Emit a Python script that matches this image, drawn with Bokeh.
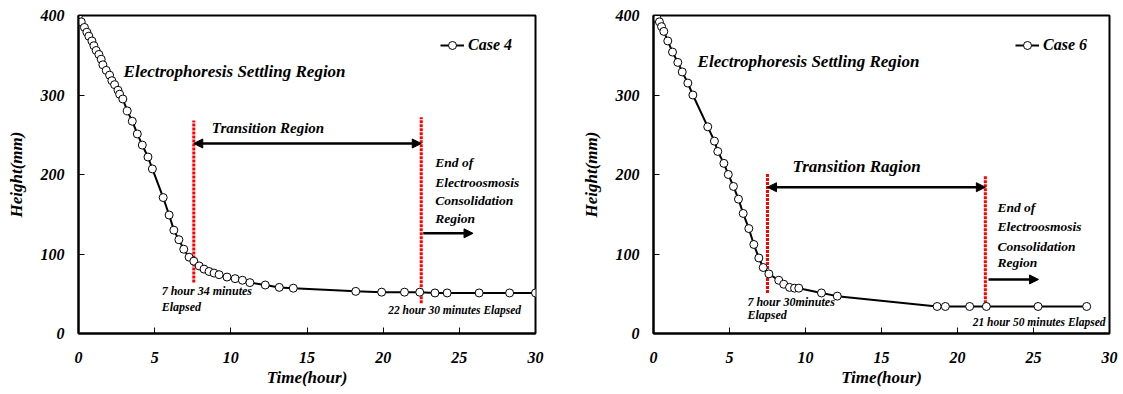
from bokeh.plotting import figure
from bokeh.layouts import row
from bokeh.models import (Label, Arrow, NormalHead, Legend, LegendItem,
                          FixedTicker, Range1d)
from bokeh.embed import file_html
from bokeh.resources import INLINE

# ---------------- data ----------------
case4_t = [0, 0.18, 0.39, 0.55, 0.68, 0.88, 1.01, 1.16, 1.34, 1.49, 1.6, 1.82,
           2.04, 2.19, 2.37, 2.59, 2.7, 2.91, 3.2, 3.53, 3.86, 4.19, 4.56, 4.85,
           5.56, 5.95, 6.26, 6.59, 6.91, 7.26, 7.57, 7.92, 8.24, 8.57, 8.9, 9.23,
           9.75, 10.28, 10.76, 11.25, 12.26, 13.18, 14.1, 18.2, 19.9, 21.4, 22.4,
           23.4, 24.2, 26.3, 28.3, 30.0]
case4_h = [400, 392, 385, 379, 374, 368, 362, 356, 351, 345, 338, 331,
           325, 318, 313, 306, 301, 295, 280, 267, 251, 237, 222, 207,
           171, 149, 130, 118, 106, 96, 91, 85, 81, 78, 76, 74,
           71, 69, 67, 64, 61, 58, 57, 53, 52, 52, 52,
           51, 51, 51, 51, 51]

case6_t = [0, 0.24, 0.39, 0.53, 0.68, 0.94, 1.25, 1.6, 1.89, 2.26, 2.59, 3.57,
           4.01, 4.23, 4.63, 4.92, 5.26, 5.59, 5.9, 6.27, 6.6, 6.93, 7.22, 7.59,
           8.24, 8.57, 8.95, 9.28, 9.56, 11.05, 12.09, 18.66, 19.2, 20.8, 21.9,
           25.3, 28.5]
case6_h = [400, 396, 392, 386, 380, 368, 354, 341, 329, 315, 300, 260,
           242, 229, 214, 200, 185, 169, 151, 132, 112, 95, 83, 75,
           67, 62, 58, 57, 57, 51, 47, 34, 34, 34, 34,
           34, 34]

x_ticks = [0, 5, 10, 15, 20, 25, 30]
y_ticks = [0, 100, 200, 300, 400]

# transition markers (hours)
case4_marks = [7 + 34 / 60, 22.5]
case6_marks = [7.5, 21 + 50 / 60]

FONT = "Liberation Serif"


def make_fig(t, h, name, marks, width, bl, br, cfg):
    p = figure(width=width, height=394, output_backend="svg", toolbar_location=None,
               x_range=Range1d(0, 30), y_range=Range1d(0, 400),
               min_border_left=bl, min_border_right=br, min_border_top=15,
               min_border_bottom=61)
    p.background_fill_color = "white"
    p.border_fill_color = "white"
    p.grid.visible = False
    p.outline_line_color = "black"
    p.outline_line_width = 2
    p.outline_line_alpha = 1

    for ax in (p.xaxis[0], p.yaxis[0]):
        ax.axis_line_width = 2
        ax.major_tick_in = 6
        ax.major_tick_out = 0
        ax.minor_tick_line_color = None
        ax.major_tick_line_width = 1
        ax.major_label_text_font = FONT
        ax.major_label_text_font_style = "bold italic"
        ax.major_label_text_font_size = "16px"
        ax.major_label_text_color = "black"
        ax.axis_label_text_font = FONT
        ax.axis_label_text_font_style = "bold italic"
        ax.axis_label_text_font_size = "17px"
        ax.axis_label_text_color = "black"
    p.xaxis.ticker = FixedTicker(ticks=x_ticks)
    p.yaxis.ticker = FixedTicker(ticks=y_ticks)
    p.xaxis.axis_label = "Time(hour)"
    p.yaxis.axis_label = "Height(mm)"
    p.xaxis.major_label_standoff = 18
    p.xaxis.axis_label_standoff = 2
    p.yaxis.major_label_standoff = 14
    p.yaxis.axis_label_standoff = 12

    # red dotted region boundaries
    p.segment(x0=[marks[0], marks[1]], y0=cfg["red_y0"],
              x1=[marks[0], marks[1]], y1=cfg["red_y1"],
              line_color="#ff0000", line_width=3, line_dash="3 1")

    rl = p.line(t, h, line_color="black", line_width=2)
    rs = p.scatter(t, h, marker="circle", size=8, fill_color="white",
                   line_color="black", line_width=1)

    # transition double arrow
    p.add_layout(Arrow(start=NormalHead(size=9, fill_color="black", line_color="black"),
                       end=NormalHead(size=9, fill_color="black", line_color="black"),
                       x_start=marks[0], y_start=cfg["arrow_y"],
                       x_end=marks[1], y_end=cfg["arrow_y"],
                       line_color="black", line_width=2.5))
    # end arrow
    ax0, ax1, ay = cfg["end_arrow"]
    p.add_layout(Arrow(end=NormalHead(size=9, fill_color="black", line_color="black"),
                       x_start=ax0, y_start=ay, x_end=ax1, y_end=ay,
                       line_color="black", line_width=2.5))

    def lab(x, y, text, size):
        p.add_layout(Label(x=x, y=y, text=text, text_font=FONT,
                           text_font_style="bold italic",
                           text_font_size=size, text_color="black",
                           text_baseline="middle", text_align="left"))

    for (x, y, text, size) in cfg["labels"]:
        lab(x, y, text, size)

    item = LegendItem(label=name, renderers=[rl, rs])
    leg = Legend(items=[item], location=(362, 278), background_fill_alpha=0,
                 border_line_color=None, padding=0, margin=0, glyph_width=24,
                 label_standoff=4, label_text_font=FONT, label_text_color="black",
                 label_text_font_style="bold italic", label_text_font_size="16px")
    p.add_layout(leg)
    return p


cfg4 = dict(
    red_y0=[64, 38], red_y1=[268, 272], arrow_y=239,
    end_arrow=(22.63, 25.9, 126),
    labels=[
        (2.96, 330, "Electrophoresis Settling Region", "17px"),
        (8.75, 259, "Transition Region", "15px"),
        (5.46, 54, "7 hour 34 minutes", "12px"),
        (5.46, 33, "Elapsed", "12px"),
        (20.33, 29, "22 hour 30 minutes Elapsed", "11.5px"),
        (23.42, 215, "End of", "13.5px"),
        (23.42, 190, "Electroosmosis", "13.5px"),
        (23.42, 167, "Consolidation", "13.5px"),
        (23.42, 145, "Region", "13.5px"),
    ])

cfg6 = dict(
    red_y0=[51, 33], red_y1=[201, 199], arrow_y=184,
    end_arrow=(22.04, 25.33, 68),
    labels=[
        (2.9, 342, "Electrophoresis Settling Region", "17px"),
        (9.14, 210, "Transition Ragion", "17px"),
        (6.18, 39, "7 hour 30minutes", "12px"),
        (6.18, 23, "Elapsed", "12px"),
        (21.0, 14, "21 hour 50 minutes Elapsed", "11.5px"),
        (22.63, 158, "End of", "13.5px"),
        (22.63, 135, "Electroosmosis", "13.5px"),
        (22.63, 110, "Consolidation", "13.5px"),
        (22.63, 89, "Region", "13.5px"),
    ])

p1 = make_fig(case4_t, case4_h, "Case 4", case4_marks, 560, 78, 25, cfg4)
p2 = make_fig(case6_t, case6_h, "Case 6", case6_marks, 563, 93, 14, cfg6)

layout = row(p1, p2)
open("out.html", "w").write(file_html(layout, INLINE))
